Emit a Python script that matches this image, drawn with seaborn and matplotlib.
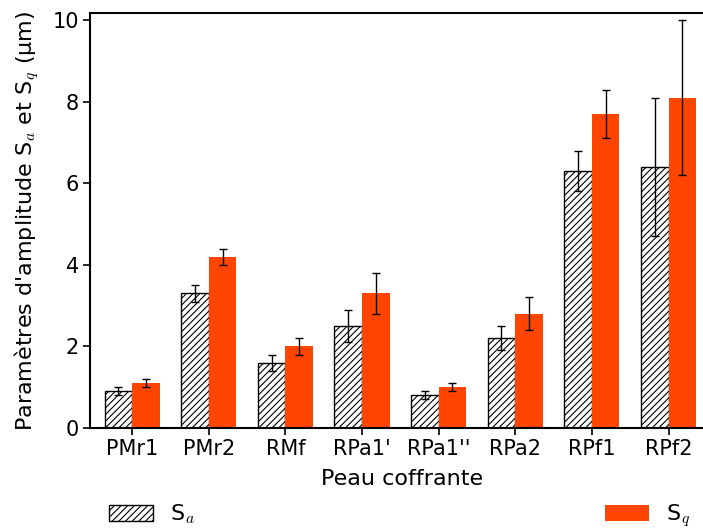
import numpy as np
import pandas as pd
import matplotlib
matplotlib.use("Agg")
import matplotlib.pyplot as plt
import seaborn as sns

# Data
categories = ["PMr1", "PMr2", "RMf", "RPa1'", "RPa1''", "RPa2", "RPf1", "RPf2"]
sa_mean = [0.9, 3.3, 1.6, 2.5, 0.8, 2.2, 6.3, 6.4]
sa_err = [0.1, 0.2, 0.2, 0.4, 0.1, 0.3, 0.5, 1.7]
sq_mean = [1.1, 4.2, 2.0, 3.3, 1.0, 2.8, 7.7, 8.1]
sq_err = [0.1, 0.2, 0.2, 0.5, 0.1, 0.4, 0.6, 1.9]
series = ["S$_a$", "S$_q$"]

df = pd.DataFrame({
    "cat": categories * 2,
    "val": sa_mean + sq_mean,
    "param": [series[0]] * len(categories) + [series[1]] * len(categories),
})

sns.set_style("ticks")
plt.rcParams["font.family"] = ["DejaVu Sans"]
plt.rcParams["mathtext.fontset"] = "cm"
plt.rcParams["hatch.linewidth"] = 0.8
for k in ["text.color", "axes.labelcolor", "xtick.color", "ytick.color", "axes.edgecolor"]:
    plt.rcParams[k] = "black"

fig = plt.figure(figsize=(7.03, 5.30), dpi=100)
ax = fig.add_axes([0.128, 0.1925, 0.872, 0.7825])

sns.barplot(data=df, x="cat", y="val", hue="param", order=categories,
            hue_order=series, palette=["white", "#FF4500"], saturation=1,
            width=0.72, gap=0, errorbar=None, ax=ax, legend=False)

n = len(categories)
patches = ax.patches[:2 * n]
for i, p in enumerate(patches):
    if i < n:
        p.set_hatch("/////")
        p.set_edgecolor("black")
        p.set_linewidth(1.0)
    else:
        p.set_edgecolor("none")

errs = sa_err + sq_err
for p, e in zip(patches, errs):
    xc = p.get_x() + p.get_width() / 2
    ax.errorbar(xc, p.get_height(), yerr=e, fmt="none", ecolor="black",
                elinewidth=1.0, capsize=3, capthick=1.0, zorder=5)

ax.set_xlim(-0.55, 7.45)
ax.set_ylim(0, 10.17)
ax.set_yticks([0, 2, 4, 6, 8, 10])
ax.tick_params(axis="both", labelsize=15, length=5, width=1.2, pad=3)
ax.set_xlabel("Peau coffrante", fontsize=16, labelpad=11)
ax.xaxis.set_label_coords(0.509, -0.1, transform=ax.transAxes)
ax.set_ylabel("Paramètres d'amplitude S$_a$ et S$_q$ (µm)", fontsize=16, labelpad=8)
for s in ["left", "bottom", "top"]:
    ax.spines[s].set_linewidth(1.5)
ax.spines["right"].set_visible(False)

# one legend row, entries pushed to both sides
handles = [patches[0], patches[n]]
fig.legend(handles, series, loc="lower left", bbox_to_anchor=(0.155, 0.001),
           ncol=2, frameon=False, fontsize=16, handlelength=2.0,
           handleheight=0.75, handletextpad=0.75, columnspacing=18.45,
           borderpad=0, borderaxespad=0)

fig.savefig("out.png", dpi=100)
